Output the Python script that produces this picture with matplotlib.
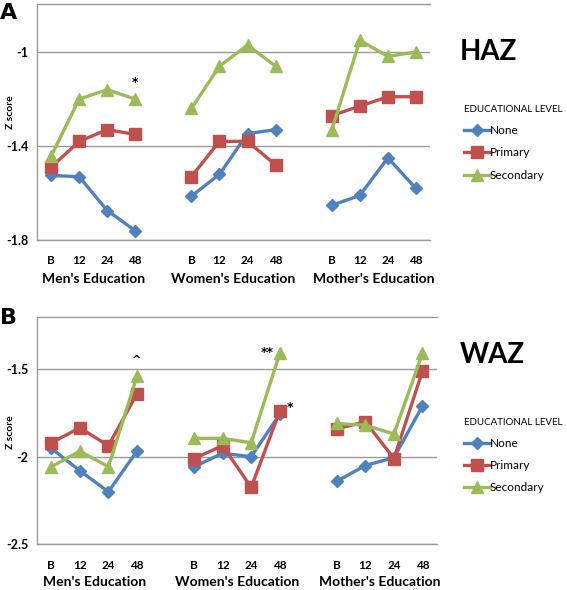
import matplotlib.pyplot as plt
from matplotlib.lines import Line2D

groups = ["Men's Education", "Women's Education", "Mother's Education"]
times = ["B", "12", "24", "48"]
levels = ["None", "Primary", "Secondary"]

# HAZ (panel A), 4 time points per group, in group order
haz_none = [-1.525, -1.53, -1.674, -1.76,
            -1.613, -1.52, -1.347, -1.33,
            -1.652, -1.61, -1.45, -1.58]
haz_primary = [-1.49, -1.38, -1.33, -1.35,
               -1.53, -1.38, -1.38, -1.48,
               -1.27, -1.23, -1.19, -1.19]
haz_secondary = [-1.444, -1.20, -1.16, -1.20,
                 -1.24, -1.06, -0.97, -1.06,
                 -1.333, -0.95, -1.018, -1.00]

# WAZ (panel B)
waz_none = [-1.952, -2.08, -2.20, -1.968,
            -2.057, -1.98, -2.00, -1.757,
            -2.14, -2.05, -2.005, -1.71]
waz_primary = [-1.92, -1.835, -1.937, -1.64,
               -2.01, -1.937, -2.175, -1.74,
               -1.84, -1.80, -2.01, -1.51]
waz_secondary = [-2.057, -1.968, -2.057, -1.54,
                 -1.895, -1.895, -1.92, -1.41,
                 -1.81, -1.82, -1.87, -1.41]

COLORS = ["#4F81BD", "#C0504D", "#9BBB59"]
MARKERS = ["D", "s", "^"]
MSIZE = [6, 8, 8]
FONT = "Lato"
GRID = "#9a9a9a"

fig = plt.figure(figsize=(5.67, 5.90), dpi=100)


def panel(rect, series, ylim, yticks, letter, letter_y, title, title_y,
          legend_y, ylabel_y):
    ax = fig.add_axes(rect)
    for g in range(len(groups)):
        xs = [g * 5 + t for t in range(len(times))]
        for k, vals in enumerate(series):
            ax.plot(xs, vals[g * 4:(g + 1) * 4], color=COLORS[k], lw=2.4,
                    marker=MARKERS[k], ms=MSIZE[k], zorder=3 + k)
    ax.set_xlim(-0.5, 13.5)
    ax.set_ylim(*ylim)
    ax.set_yticks(yticks)
    ax.set_yticklabels([f"{v:g}" for v in yticks], fontsize=9,
                       fontweight="bold", family=FONT)
    ax.set_xticks([g * 5 + t for g in range(3) for t in range(4)])
    ax.set_xticklabels(times * 3, fontsize=8.5, fontweight="bold", family=FONT)
    ax.tick_params(axis="both", length=0, pad=6)
    ax.tick_params(axis="x", pad=11)
    for y in yticks:
        ax.axhline(y, color=GRID, lw=1, zorder=1)
    ax.spines["right"].set_visible(False)
    for s in ["left", "top", "bottom"]:
        ax.spines[s].set_color(GRID)
        ax.spines[s].set_linewidth(1)
    fig.text(0.018, ylabel_y, "Z score", fontsize=7.5, fontweight="bold",
             family=FONT, rotation=90, ha="center", va="center")
    for g, name in enumerate(groups):
        ax.text(g * 5 + 1.5, -0.165, name, transform=ax.get_xaxis_transform(),
                ha="center", va="center", fontsize=10, fontweight="bold",
                family=FONT)
    fig.text(0.0, letter_y, letter, fontsize=16, fontweight="bold",
             family="DejaVu Sans", va="top")
    fig.text(0.81, title_y, title, fontsize=20, fontweight="bold",
             family=FONT, va="center")
    handles = [Line2D([], [], color=COLORS[k], marker=MARKERS[k],
                      ms=MSIZE[k], lw=2.4) for k in range(3)]
    leg = fig.legend(handles, levels, loc="upper left",
                     bbox_to_anchor=(0.81, legend_y), frameon=False,
                     title="EDUCATIONAL LEVEL", handlelength=2.2,
                     handletextpad=0.0, labelspacing=0.95, borderaxespad=0,
                     prop={"family": FONT, "size": 8.5})
    leg.get_title().set_fontsize(7)
    leg.get_title().set_family(FONT)
    leg._legend_box.align = "left"
    return ax


axA = panel([0.0653, 0.593, 0.693, 0.400],
            [haz_none, haz_primary, haz_secondary],
            (-1.8, -0.796), [-1.8, -1.4, -1.0], "A", 0.995, "HAZ", 0.912,
            0.83, 0.81)
axA.text(3, -1.13, "*", ha="center", va="center", fontsize=9, fontweight="bold")

axB = panel([0.0653, 0.0775, 0.705, 0.3857],
            [waz_none, waz_primary, waz_secondary],
            (-2.5, -1.2), [-2.5, -2.0, -1.5], "B", 0.478, "WAZ", 0.398,
            0.30, 0.268)
axB.text(3, -1.45, "^", ha="center", va="center", fontsize=8, fontweight="bold")
axB.text(7.55, -1.405, "**", ha="center", va="center", fontsize=9,
         fontweight="bold")
axB.text(8.35, -1.72, "*", ha="center", va="center", fontsize=9,
         fontweight="bold")

fig.savefig("out.png", dpi=100, facecolor="white")
